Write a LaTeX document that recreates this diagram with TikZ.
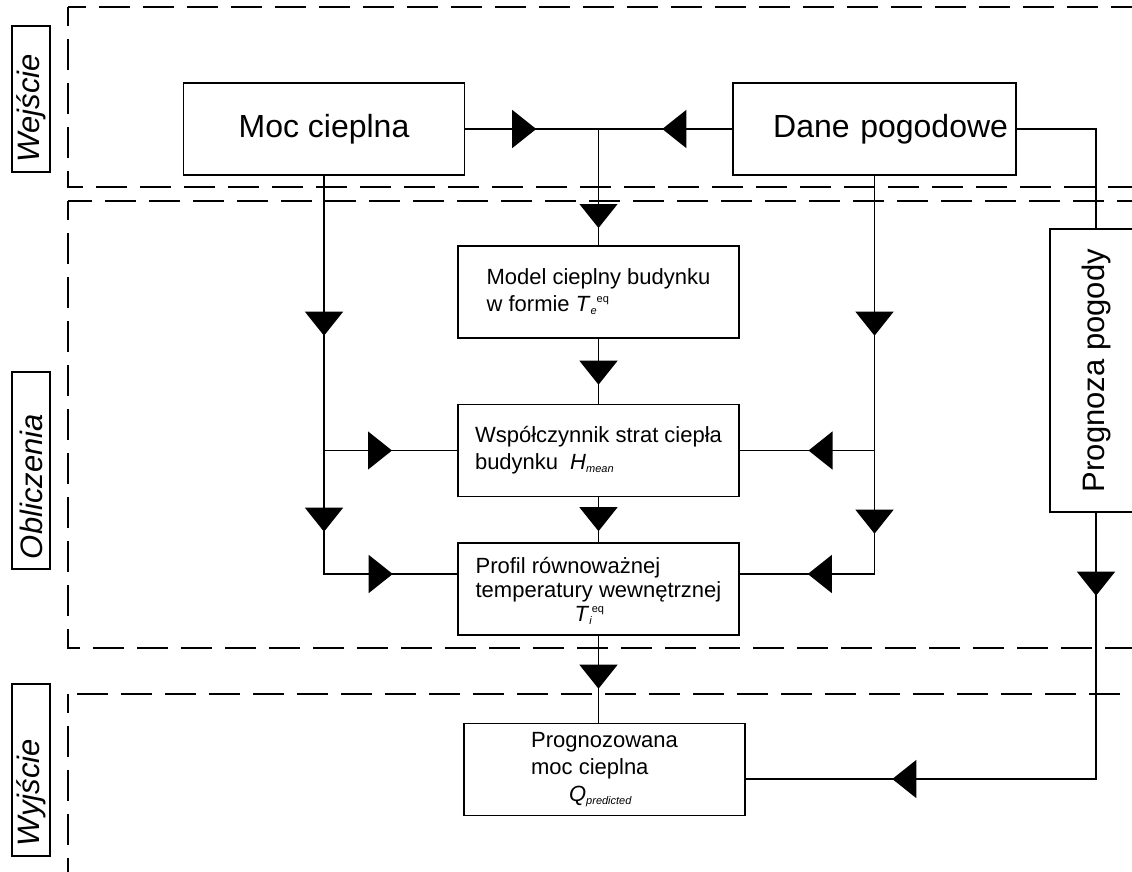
\documentclass[tikz,border=0pt]{standalone}
\usepackage{fontspec}
\setmainfont{Liberation Sans}
\usetikzlibrary{arrows.meta, decorations.markings, positioning}

\newcommand{\subidx}[1]{\raisebox{-3pt}{\fontsize{11}{11}\selectfont\itshape #1}}
\newcommand{\supidx}[1]{\raisebox{9pt}{\fontsize{11}{11}\selectfont #1}}

\tikzset{
  block/.style={draw, line width=1.4pt, minimum width=281pt, minimum height=92pt,
    inner sep=0pt, align=left, font=\fontsize{22}{27}\selectfont},
  bigblock/.style={draw, line width=1.4pt, minimum width=281pt, minimum height=92pt,
    font=\fontsize{32}{32}\selectfont},
  sidelabel/.style={draw, line width=1.2pt, rotate=90, minimum height=38pt,
    inner xsep=10pt, inner ysep=0pt, align=left, font=\fontsize{31}{31}\selectfont\itshape},
  frame/.style={line width=1.3pt, dash pattern=on 31pt off 13pt, dash phase=12pt},
  flow/.style={line width=1.2pt},
  tipmark/.style={postaction={decorate, decoration={markings,
    mark=at position #1 with {\arrow{Triangle[width=38pt,length=24pt]}}}}}
}

\begin{document}
\begin{tikzpicture}[x=1pt, y=-1pt]
    \useasboundingbox (0,0) rectangle (1132,871);

    % Stages
    \draw[frame] (68,7) rectangle (1145,187);
    \draw[frame] (68,201) rectangle (1145,648);
    \draw[frame] (68,694) rectangle (1145,885);
    \node[sidelabel, text width=126pt] (lwej) at (31,99) {Wejście};
    \node[sidelabel, text width=177pt] (lobl) at (31,470.5) {Obliczenia};
    \node[sidelabel, text width=152pt] (lwyj) at (31,770) {Wyjście};

    % Inputs
    \node[bigblock] (moc) at (324,129) {Moc cieplna};
    \node[bigblock, text width=267pt, inner xsep=8pt, align=right] (dane) at (874.5,129) {Dane pogodowe};
    \node[draw, line width=1.4pt, rotate=90, minimum width=283pt, minimum height=92pt,
      font=\fontsize{31}{31}\selectfont] (prog) at (1096,370.5) {Prognoza pogody};

    % Calculation chain
    \node[block] (model) at (598.5,292) {Model cieplny budynku\\
      w formie \textit{T}\subidx{e}\supidx{eq}};
    \node[block] (wsp) at (598.5,450.5) {Współczynnik strat ciepła\\
      budynku\hspace{12pt}\textit{H}\subidx{mean}};
    \node[block, font=\fontsize{22}{24}\selectfont, text depth=-14pt] (profil) at (598.5,589) {Profil równoważnej\\
      temperatury wewnętrznej\\ \hspace*{99pt}\textit{T}\subidx{i}\supidx{eq}};

    % Output
    \node[block] (wyn) at (604.5,769.5) {Prognozowana\\ moc cieplna\\
      \hspace*{38pt}\textit{Q}\subidx{predicted}};

    % Connectors
    \coordinate (jtop) at (model.north |- moc.east);
    \draw[flow, tipmark=71pt] (moc.east) -- (jtop);
    \draw[flow, tipmark=70pt] (dane.west) -- (jtop);
    \draw[flow, tipmark=99pt] (jtop) -- (model.north);

    \coordinate (lbot) at (324,574);
    \draw[flow, tipmark=160pt, tipmark=356pt, tipmark=467pt] (moc.south) -- (lbot) -- (lbot -| profil.west);
    \draw[flow, tipmark=68pt] (moc.south |- wsp.west) -- (wsp.west);

    \coordinate (rbot) at (dane.south |- lbot);
    \draw[flow, tipmark=160pt, tipmark=358pt, tipmark=465pt] (dane.south) -- (rbot) -- (rbot -| profil.east);
    \draw[flow, tipmark=66pt] (dane.south |- wsp.east) -- (wsp.east);

    \draw[flow, tipmark=46pt] (model.south) -- (wsp.north);
    \draw[flow, tipmark=34pt] (wsp.south) -- (profil.north);
    \draw[flow, tipmark=53pt] (profil.south) -- (profil.south |- wyn.north);

    \coordinate (wynin) at ([yshift=-9.5pt]wyn.east);
    \draw[flow] (dane.east) -| (prog.east);
    \draw[flow, tipmark=83pt, tipmark=470pt] (prog.west) -- (prog.west |- wynin) -- (wynin);
\end{tikzpicture}
\end{document}
